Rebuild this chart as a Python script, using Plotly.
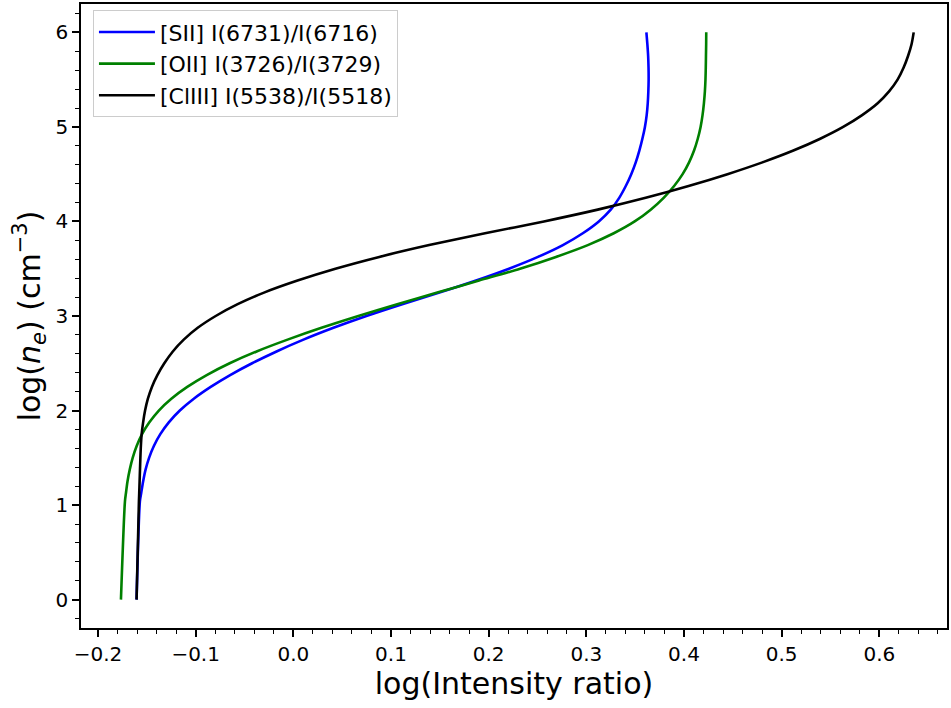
import plotly.graph_objects as go

# log(n_e) grid (cm^-3)
log_ne = [0.0, 1.04, 1.125, 1.25, 1.375, 1.5, 1.625, 1.75, 1.875, 2.0, 2.125,
          2.25, 2.375, 2.5, 2.625, 2.75, 2.875, 3.0, 3.125, 3.25, 3.375, 3.5,
          3.625, 3.75, 3.875, 4.0, 4.125, 4.25, 4.375, 4.5, 4.625, 4.75, 4.875,
          5.0, 5.125, 5.25, 5.375, 5.5, 5.625, 5.75, 5.875, 6.0]

# log(Intensity ratio) for each diagnostic
sii_ratio = [-0.1605, -0.1571, -0.1558, -0.1538, -0.1513, -0.1477, -0.1428,
             -0.1362, -0.1275, -0.1162, -0.1019, -0.0846, -0.0647, -0.0422,
             -0.0172, 0.0104, 0.0411, 0.0748, 0.1115, 0.1504, 0.1871, 0.2208,
             0.2505, 0.2760, 0.2964, 0.3128, 0.3250, 0.3337, 0.3404, 0.3460,
             0.3506, 0.3543, 0.3574, 0.3600, 0.3618, 0.3629, 0.3635, 0.3638,
             0.3637, 0.3633, 0.3625, 0.3615]
oii_ratio = [-0.1765, -0.1724, -0.1714, -0.1698, -0.1675, -0.1645, -0.1604,
             -0.1549, -0.1474, -0.1377, -0.1249, -0.1086, -0.0887, -0.0652,
             -0.0376, -0.0059, 0.0288, 0.0666, 0.1064, 0.1483, 0.1902, 0.2321,
             0.2689, 0.3015, 0.3281, 0.3495, 0.3659, 0.3792, 0.3899, 0.3986,
             0.4052, 0.4103, 0.4141, 0.4170, 0.4190, 0.4204, 0.4214, 0.4220,
             0.4223, 0.4225, 0.4227, 0.4228]
cliii_ratio = [-0.1605, -0.1581, -0.1578, -0.1574, -0.1570, -0.1566, -0.1561,
               -0.1553, -0.1538, -0.1518, -0.1489, -0.1448, -0.1392, -0.1321,
               -0.1234, -0.1122, -0.0979, -0.0795, -0.0570, -0.0294, 0.0043,
               0.0431, 0.0880, 0.1391, 0.1963, 0.2566, 0.3117, 0.3608, 0.4047,
               0.4445, 0.4803, 0.5120, 0.5395, 0.5630, 0.5824, 0.5983, 0.6100,
               0.6187, 0.6248, 0.6294, 0.6330, 0.6352]

series = [
    ("[SII] I(6731)/I(6716)", sii_ratio, "#0000ff"),
    ("[OII] I(3726)/I(3729)", oii_ratio, "#008000"),
    ("[ClIII] I(5538)/I(5518)", cliii_ratio, "#000000"),
]

fig = go.Figure()
for name, xs, color in series:
    fig.add_trace(go.Scatter(
        x=xs, y=log_ne, mode="lines", name=name,
        line=dict(color=color, width=2.6, shape="spline", smoothing=0.8),
    ))

axis_common = dict(
    showgrid=False, zeroline=False,
    showline=True, linecolor="black", linewidth=1.5, mirror=True,
    ticks="outside", ticklen=7, tickwidth=1.5, tickcolor="black",
    tickfont=dict(size=20, color="black", family="DejaVu Sans"),
)

fig.update_xaxes(
    range=[-0.2174, 0.6693],
    tickmode="array",
    tickvals=[-0.2, -0.1, 0.0, 0.1, 0.2, 0.3, 0.4, 0.5, 0.6],
    ticktext=["\u22120.2", "\u22120.1", "0.0", "0.1", "0.2", "0.3", "0.4", "0.5", "0.6"],
    minor=dict(dtick=0.02, tick0=0, ticks="outside", ticklen=4, tickwidth=1.2, tickcolor="black"),
    title=dict(text="log(Intensity ratio)", font=dict(size=30, color="black", family="DejaVu Sans"), standoff=8),
    **axis_common,
)
fig.update_yaxes(
    range=[-0.3, 6.3],
    tickmode="array",
    tickvals=[0, 1, 2, 3, 4, 5, 6],
    ticktext=["0", "1", "2", "3", "4", "5", "6"],
    minor=dict(dtick=0.2, tick0=0, ticks="outside", ticklen=4, tickwidth=1.2, tickcolor="black"),
    title=dict(text="log(<i>n</i><sub><i>e</i></sub>) (cm<sup>\u22123</sup>)",
               font=dict(size=30, color="black", family="DejaVu Sans"), standoff=6),
    **axis_common,
)

fig.update_layout(
    width=951, height=708,
    margin=dict(l=81, r=2, t=3, b=80),
    paper_bgcolor="white", plot_bgcolor="white",
    font=dict(family="DejaVu Sans", color="black"),
    legend=dict(
        x=0.0138, y=0.99, xanchor="left", yanchor="top",
        bgcolor="rgba(255,255,255,0.8)", bordercolor="#cccccc", borderwidth=1,
        font=dict(size=22, color="black", family="DejaVu Sans"),
        tracegroupgap=0, itemwidth=56,
    ),
    showlegend=True,
)

fig.write_html("out.html")
